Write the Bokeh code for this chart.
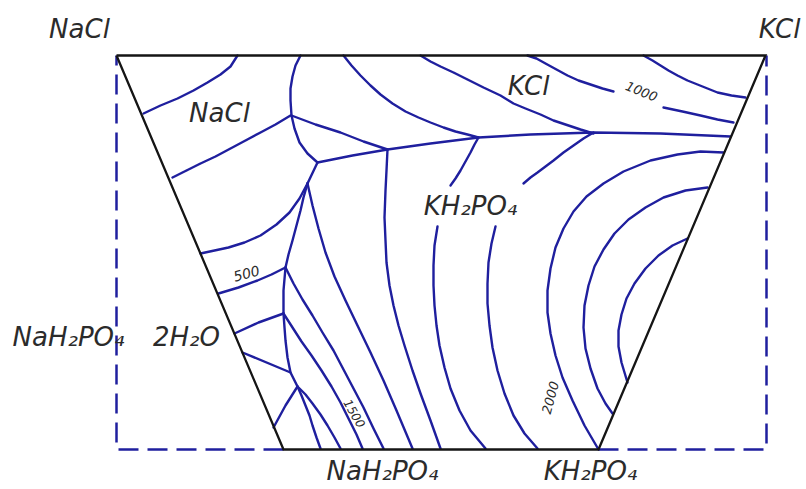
from bokeh.plotting import figure
from bokeh.models import Range1d
from bokeh.core.properties import value
from bokeh.embed import file_html
from bokeh.resources import INLINE

# Diagram coordinates: x to the right, y downward (page-like units)
# Composition square (dashed) and the trapezoid of the studied section
square_x = [116, 766]
square_y = [55, 449]
trap_x = [116, 765, 598, 283, 116]
trap_y = [55, 55, 449, 449, 55]

# Isotherms and crystallisation boundaries
a1_x = [143, 160, 177, 193, 207, 220, 230, 237]
a1_y = [113, 105, 98, 90, 82, 74, 66, 55]
a2_x = [172, 186, 200, 215, 230, 245, 260, 275, 290]
a2_y = [177, 170, 163, 156, 148, 140, 132, 124, 115]
b_x = [300, 295, 292, 290, 290, 291, 294, 299, 307, 317]
b_y = [55, 65, 76, 88, 100, 115, 128, 142, 153, 162]
c_x = [291, 315, 340, 363, 387]
c_y = [115, 124, 132, 141, 149]
d_x = [317, 352, 387, 430, 478, 530, 593, 660, 730]
d_y = [162, 155, 149, 143, 137, 134, 132, 133, 136]
e_x = [387, 386, 385, 384, 385, 386, 389, 393, 398, 404, 412, 420, 430, 440]
e_y = [149, 170, 190, 217, 240, 262, 285, 305, 325, 345, 370, 393, 420, 448]
j23_x = [317, 307]
j23_y = [162, 183]
f_x = [307, 299, 289, 276, 260, 244, 228, 214, 200]
f_y = [183, 198, 212, 224, 235, 242, 247, 250, 253]
j34_x = [307, 303, 300, 296, 292, 288, 285]
j34_y = [183, 197, 210, 225, 240, 254, 267]
l1_x = [307, 312, 318, 325, 334, 345, 357, 370, 383, 396, 412]
l1_y = [183, 205, 228, 252, 276, 300, 325, 352, 380, 410, 448]
i500_x = [285, 271, 257, 238, 218]
i500_y = [267, 274, 280, 287, 293]
j45_x = [285, 283, 283]
j45_y = [267, 290, 313]
l2_x = [285, 293, 302, 312, 322, 333, 343, 353, 363, 373, 383]
l2_y = [267, 283, 299, 315, 332, 350, 369, 388, 407, 428, 448]
g1_x = [283, 258, 234]
g1_y = [313, 322, 333]
g2_x = [242, 290]
g2_y = [352, 372]
j56_x = [283, 284, 285, 287, 290, 297]
j56_y = [313, 327, 340, 357, 372, 386]
l3_x = [283, 292, 301, 311, 321, 331, 340, 348, 356, 362]
l3_y = [313, 327, 341, 355, 370, 386, 402, 418, 434, 448]
g3_x = [297, 285, 273]
g3_y = [386, 405, 427]
m1_x = [297, 301, 305, 309, 312, 316, 320]
m1_y = [386, 395, 405, 415, 425, 437, 448]
m2_x = [297, 305, 312, 320, 327, 334, 340]
m2_y = [386, 394, 403, 414, 425, 437, 448]
r4_x = [343, 351, 360, 370, 380, 392, 405, 418, 430, 443, 455, 467, 478]
r4_y = [55, 65, 75, 85, 94, 103, 111, 117, 122, 127, 131, 134, 137]
r3_x = [420, 430, 440, 453, 467, 483, 500, 513, 525, 540, 553, 565, 580, 593]
r3_y = [55, 61, 66, 72, 79, 87, 95, 103, 108, 114, 120, 124, 129, 133]
r2a_x = [527, 536, 545, 556, 567, 578, 590, 602, 613]
r2a_y = [55, 58, 63, 69, 75, 80, 84, 88, 91]
r2b_x = [663, 682, 700, 717, 733]
r2b_y = [107, 111, 115, 119, 122]
r1_x = [643, 652, 660, 668, 677, 687, 697, 707, 717, 731, 745]
r1_y = [55, 60, 65, 70, 75, 80, 84, 88, 92, 95, 97]
r5_x = [723, 700, 677, 650, 623, 603, 586, 573, 563, 555, 550, 547, 547, 550, 555,
        562, 572, 584, 598]
r5_y = [152, 151, 154, 160, 171, 183, 196, 211, 228, 247, 268, 290, 312, 333, 355,
        377, 400, 425, 449]
r6_x = [707, 685, 663, 645, 628, 614, 603, 594, 588, 584, 583, 585, 590, 597, 605, 612]
r6_y = [187, 190, 197, 207, 219, 233, 249, 266, 285, 305, 327, 348, 368, 388, 403, 413]
r7_x = [687, 672, 658, 645, 634, 626, 621, 618, 618, 621, 627]
r7_y = [238, 245, 255, 268, 283, 298, 314, 330, 346, 362, 382]
b7a_x = [478, 474, 470, 465, 460, 455, 450]
b7a_y = [137, 144, 152, 161, 170, 178, 185]
b7b_x = [437, 434, 433, 433, 434, 436, 439, 444, 450, 459, 470, 485]
b7b_y = [226, 245, 265, 285, 305, 325, 345, 367, 388, 410, 430, 448]
b8a_x = [593, 583, 573, 563, 553, 545, 537, 530, 523]
b8a_y = [132, 138, 145, 152, 160, 166, 172, 177, 183]
b8b_x = [495, 491, 488, 487, 487, 489, 492, 497, 504, 513, 524, 537]
b8b_y = [226, 243, 262, 283, 303, 325, 347, 370, 393, 415, 433, 448]

curves_x = [a1_x, a2_x, b_x, c_x, d_x, e_x, j23_x, f_x, j34_x, l1_x, i500_x,
            j45_x, l2_x, g1_x, g2_x, j56_x, l3_x, g3_x, m1_x, m2_x, r4_x,
            r3_x, r2a_x, r2b_x, r1_x, r5_x, r6_x, r7_x, b7a_x, b7b_x,
            b8a_x, b8b_x]
curves_y = [a1_y, a2_y, b_y, c_y, d_y, e_y, j23_y, f_y, j34_y, l1_y, i500_y,
            j45_y, l2_y, g1_y, g2_y, j56_y, l3_y, g3_y, m1_y, m2_y, r4_y,
            r3_y, r2a_y, r2b_y, r1_y, r5_y, r6_y, r7_y, b7a_y, b7b_y,
            b8a_y, b8b_y]

# Labels: phases, corner salts and isotherm temperatures
label_text = ["NaCl", "KCl", "NaCl", "KCl", "1000", "KH₂PO₄", "500",
              "NaH₂PO₄", "2H₂O", "NaH₂PO₄", "KH₂PO₄", "1500", "2000"]
label_x = [79, 779, 219, 528, 641, 470, 246, 68, 186, 382, 590, 354, 550]
label_y = [28, 28, 112, 85, 91, 205, 273, 336, 336, 470, 470, 413, 397]
label_angle = [0, 0, 0, 0, -22, 0, 15, 0, 0, 0, 0, -60, 75]
label_size = ["26px", "26px", "26px", "26px", "13px", "26px", "14px",
              "26px", "26px", "26px", "26px", "12px", "13px"]

BLUE = "#1f1f9e"

p = figure(width=806, height=489, output_backend="svg", toolbar_location=None,
           x_range=Range1d(0, 806), y_range=Range1d(489, 0),
           min_border=0, outline_line_color=None, background_fill_color="white")
p.axis.visible = False
p.grid.visible = False

# dashed composition square (sides outside the trapezoid)
p.line([trap_x[3], square_x[0], square_x[0]], [square_y[1], square_y[1], square_y[0]],
       line_color=BLUE, line_width=2.5, line_dash="20 9")
p.line([trap_x[2], square_x[1], square_x[1]], [square_y[1], square_y[1], square_y[0]],
       line_color=BLUE, line_width=2.5, line_dash="20 9")

p.multi_line(xs=curves_x, ys=curves_y, line_color=BLUE, line_width=2.4,
             line_join="round", line_cap="round")

p.line(trap_x, trap_y, line_color="#151515", line_width=2.3, line_join="miter")

p.text(x=label_x, y=label_y, text=label_text, angle=label_angle, angle_units="deg",
       text_align="center", text_baseline="middle", text_color="#2b2b2b",
       text_font=value("DejaVu Sans"), text_font_style="italic",
       text_font_size=label_size)

open("out.html", "w").write(file_html(p, INLINE))
